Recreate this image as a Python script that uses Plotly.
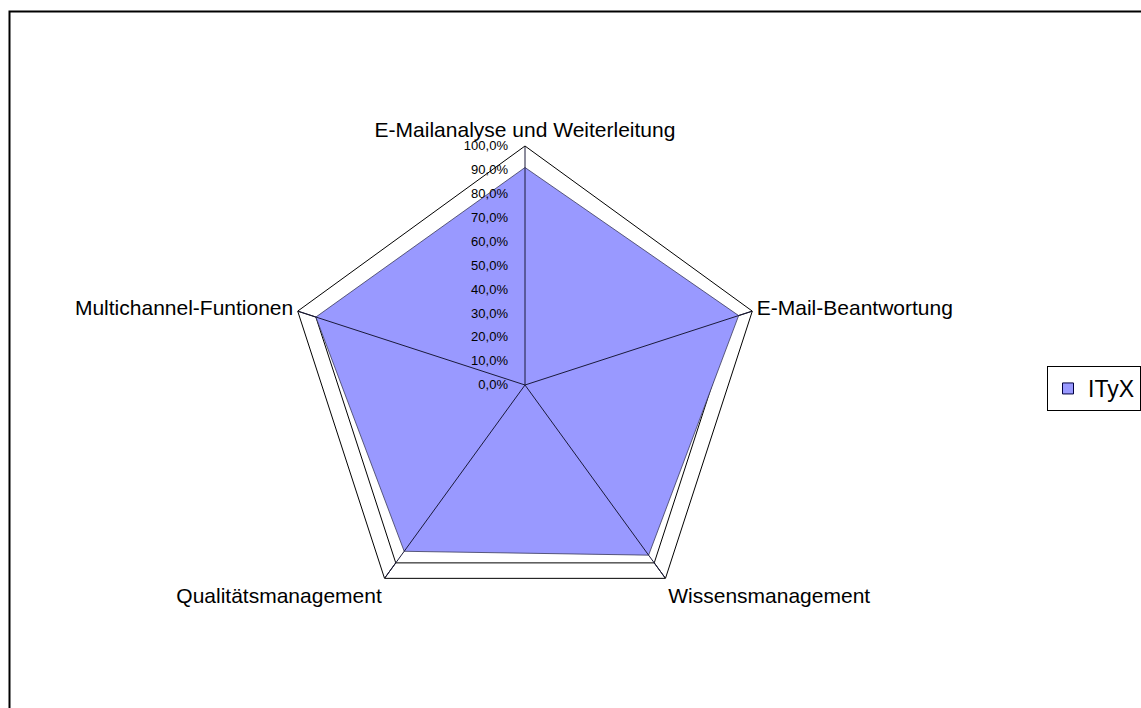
import plotly.graph_objects as go

categories = ["E-Mailanalyse und Weiterleitung", "E-Mail-Beantwortung", "Wissensmanagement",
              "Qualitätsmanagement", "Multichannel-Funtionen"]
series_name = "ITyX"
values = [0.91, 0.94, 0.88, 0.86, 0.92]
radial_ticks = [i / 10 for i in range(11)]
bevel_level = 0.92

W, H = 1141, 708
cx, cy, rad = 525, 385, 239

fig = go.Figure()

# bevel (frame decoration) lines
bt = [categories[4], categories[4], categories[3], categories[2], categories[1], categories[1], None,
      categories[3], categories[3], None, categories[2], categories[2]]
br = [1.0, bevel_level, bevel_level, bevel_level, bevel_level, 1.0, None,
      1.0, bevel_level, None, 1.0, bevel_level]
fig.add_trace(go.Scatterpolar(r=br, theta=bt, mode="lines", line=dict(color="black", width=1),
                              showlegend=False, hoverinfo="skip", connectgaps=False))

fig.add_trace(go.Scatterpolar(
    r=values + [values[0]], theta=categories + [categories[0]],
    mode="lines", fill="toself", fillcolor="#9999FF",
    line=dict(color="#3a3a5a", width=0.8), name=series_name, showlegend=False))

# spokes (category axes) drawn above the filled area
sr, st = [], []
for c in categories:
    sr += [0, 1, None]
    st += [c, c, None]
fig.add_trace(go.Scatterpolar(r=sr, theta=st, mode="lines", line=dict(color="#1a1a3a", width=1),
                              showlegend=False, hoverinfo="skip", connectgaps=False))

# legend entry
fig.add_trace(go.Scatterpolar(r=[None], theta=[None], mode="markers", name=series_name,
                              marker=dict(symbol="square", size=11, color="#9999FF",
                                          line=dict(color="#000040", width=1))))

fig.update_layout(
    width=W, height=H,
    margin=dict(l=0, r=0, t=0, b=0),
    paper_bgcolor="white",
    separators=",.",
    font=dict(family="Liberation Sans, Arial", color="black"),
    polar=dict(
        domain=dict(x=[(cx - rad) / W, (cx + rad) / W],
                    y=[(H - cy - rad) / H, (H - cy + rad) / H]),
        bgcolor="rgba(0,0,0,0)",
        gridshape="linear",
        angularaxis=dict(direction="clockwise", rotation=90, showline=True, linecolor="black",
                         linewidth=1, showgrid=False,
                         layer="above traces", ticks="", tickfont=dict(size=21),
                         categoryorder="array", categoryarray=categories),
        radialaxis=dict(range=[0, 1], tickvals=radial_ticks, tickformat=".1%", showgrid=False,
                        showline=False, angle=90, tickangle=90, side="counterclockwise",
                        ticks="outside", ticklen=12, tickcolor="rgba(0,0,0,0)",
                        layer="above traces", tickfont=dict(size=13)),
    ),
    legend=dict(x=1.0, y=1 - 366 / H, xanchor="right", yanchor="top",
                bordercolor="black", borderwidth=1, font=dict(size=23), bgcolor="white",
                itemwidth=30),
    shapes=[dict(type="rect", xref="paper", yref="paper", x0=9.5 / W, x1=1.05,
                 y0=-0.05, y1=1 - 11.5 / H, line=dict(color="black", width=2))],
)

fig.write_html("out.html", config={"displayModeBar": False},
               post_script="document.body.style.margin='0';document.body.style.overflow='hidden';")
